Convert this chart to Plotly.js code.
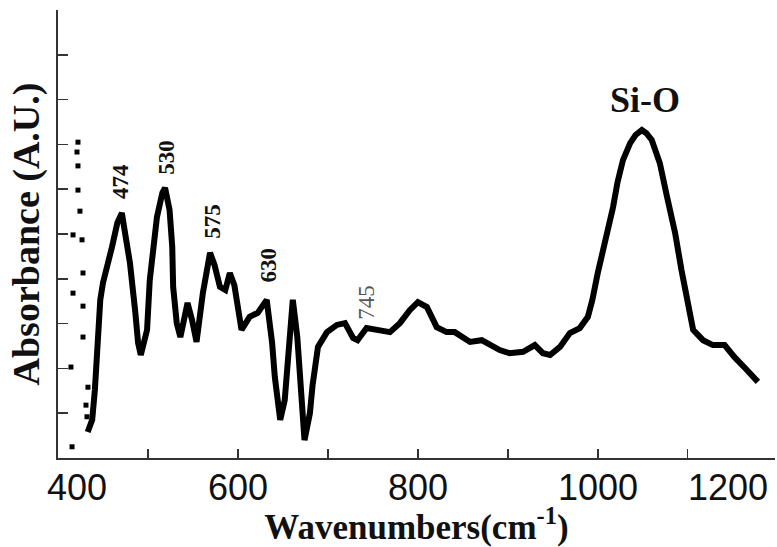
<!DOCTYPE html>
<html>
<head>
<meta charset="utf-8">
<script src="https://cdn.plot.ly/plotly-3.0.1.min.js"></script>
<style>html,body{margin:0;padding:0;background:#fff;}#chart{width:777px;height:547px;}</style>
</head>
<body>
<div id="chart"></div>
<script>
// Main FTIR spectrum (wavenumber, absorbance in arbitrary units)
const wavenumber = [433,438,441,443,444,447,450,456,460,466,471,474,480,486,489,492,499,502,506,510,516,519,524,527,528,532,536,544,549,554,561,569,574,580,586,591,596,599,604,613,622,632,638,641,647,652,658,661,666,671,674,680,683,689,699,710,719,728,733,743,754,769,780,791,800,810,821,832,841,850,858,871,882,891,902,917,930,939,947,958,969,980,989,994,1000,1006,1011,1017,1022,1028,1036,1042,1049,1054,1060,1069,1077,1086,1093,1100,1106,1117,1128,1141,1152,1166,1178];
const absorbance = [0.58,0.85,1.52,2.12,2.86,3.53,3.91,4.35,4.71,5.25,5.47,5.09,4.35,3.24,2.57,2.30,2.86,3.97,4.71,5.38,5.92,6.03,5.54,4.71,3.82,3.01,2.70,3.46,3.08,2.59,3.68,4.58,4.31,3.82,3.75,4.13,3.86,3.46,2.86,3.15,3.24,3.53,2.57,1.81,0.85,1.29,2.92,3.53,2.70,1.45,0.40,1.00,1.63,2.48,2.81,2.97,3.01,2.68,2.63,2.90,2.86,2.81,3.01,3.30,3.48,3.37,2.92,2.81,2.81,2.68,2.59,2.63,2.52,2.41,2.34,2.37,2.52,2.34,2.30,2.48,2.79,2.90,3.15,3.53,4.13,4.64,5.16,5.60,6.16,6.65,7.03,7.21,7.32,7.25,7.10,6.58,5.83,5.02,4.20,3.37,2.86,2.63,2.52,2.52,2.25,1.96,1.70];

// Scattered dots at the low-wavenumber end
const dotWavenumber = [415.6,414.4,427.8,427.8,416.7,427.8,426.7,416.7,424.4,422.2,422.2,421.1,422.2,433.3,431.1,432.2];
const dotAbsorbance = [0.25,2.03,2.70,3.39,3.68,4.13,4.87,4.98,5.51,5.98,6.52,6.83,7.05,1.58,1.18,0.92];

// Axis ticks and labels
const xRange = [400, 1197];
const xTickVals = [400,500,600,700,800,900,1000,1100,1200];
const xLabelVals = [400,600,800,1000,1200];
const xLabelText = ['400','600','800','1000','1200'];
const yTickVals = [1,2,3,4,5,6,7,8,9];

// Peak labels
const peakText = ['474','530','575','630','745'];
const peakX = [469,521,571,634,743];
const peakY = [6.16,6.72,5.29,4.31,3.48];

const labelShift = {first: 19, last: -50};
const serif = 'Liberation Serif, Times New Roman, serif';

const annotations = [];
xLabelVals.forEach((v, i) => {
  let shift = 0;
  if (i === 0) shift = labelShift.first;
  if (i === xLabelVals.length - 1) shift = labelShift.last;
  annotations.push({
    x: (v - xRange[0]) / (xRange[1] - xRange[0]), xref: 'paper', xanchor: 'center',
    y: 0, yref: 'paper', yanchor: 'middle', yshift: -29,
    xshift: shift, showarrow: false, text: xLabelText[i],
    font: {family: 'Liberation Sans, Arial, sans-serif', size: 36, color: '#111'}
  });
});
peakText.forEach((t, i) => {
  const last = i === peakText.length - 1;
  annotations.push({
    x: peakX[i], y: peakY[i], xref: 'x', yref: 'y',
    text: last ? t : '<b>' + t + '</b>', showarrow: false,
    textangle: -90,
    font: {family: serif, size: 23, color: last ? '#555' : '#111'}
  });
});
annotations.push({
  x: 1052, y: 7.99, xref: 'x', yref: 'y', text: '<b>Si-O</b>', showarrow: false,
  font: {family: serif, size: 36, color: '#111'}
});

const traces = [
  {
    x: wavenumber, y: absorbance, type: 'scatter', mode: 'lines',
    line: {color: '#000', width: 6}, hoverinfo: 'skip'
  },
  {
    x: dotWavenumber, y: dotAbsorbance, type: 'scatter', mode: 'markers',
    marker: {color: '#000', size: 5, symbol: 'square'}, hoverinfo: 'skip'
  }
];

const layout = {
  width: 777, height: 547,
  margin: {l: 58, r: 2, t: 10, b: 89},
  paper_bgcolor: '#fff', plot_bgcolor: '#fff',
  showlegend: false,
  xaxis: {
    range: xRange, tickvals: xTickVals, showticklabels: false,
    ticks: 'inside', ticklen: 9, tickwidth: 1.5, tickcolor: '#333',
    showline: true, linecolor: '#333', linewidth: 2, mirror: false,
    showgrid: false, zeroline: false,
    title: {text: '<b>Wavenumbers(cm<sup>-1</sup>)</b>', standoff: 56,
            font: {family: serif, size: 35, color: '#111'}}
  },
  yaxis: {
    range: [0, 10], tickvals: yTickVals, showticklabels: false,
    ticks: 'inside', ticklen: 10, tickwidth: 1.5, tickcolor: '#333',
    showline: true, linecolor: '#333', linewidth: 2, mirror: false,
    showgrid: false, zeroline: false,
    title: {text: '<b>Absorbance (A.U.)</b>', standoff: 5,
            font: {family: serif, size: 38, color: '#111'}}
  },
  annotations: annotations
};

Plotly.newPlot('chart', traces, layout, {staticPlot: true, displayModeBar: false});
</script>
</body>
</html>
